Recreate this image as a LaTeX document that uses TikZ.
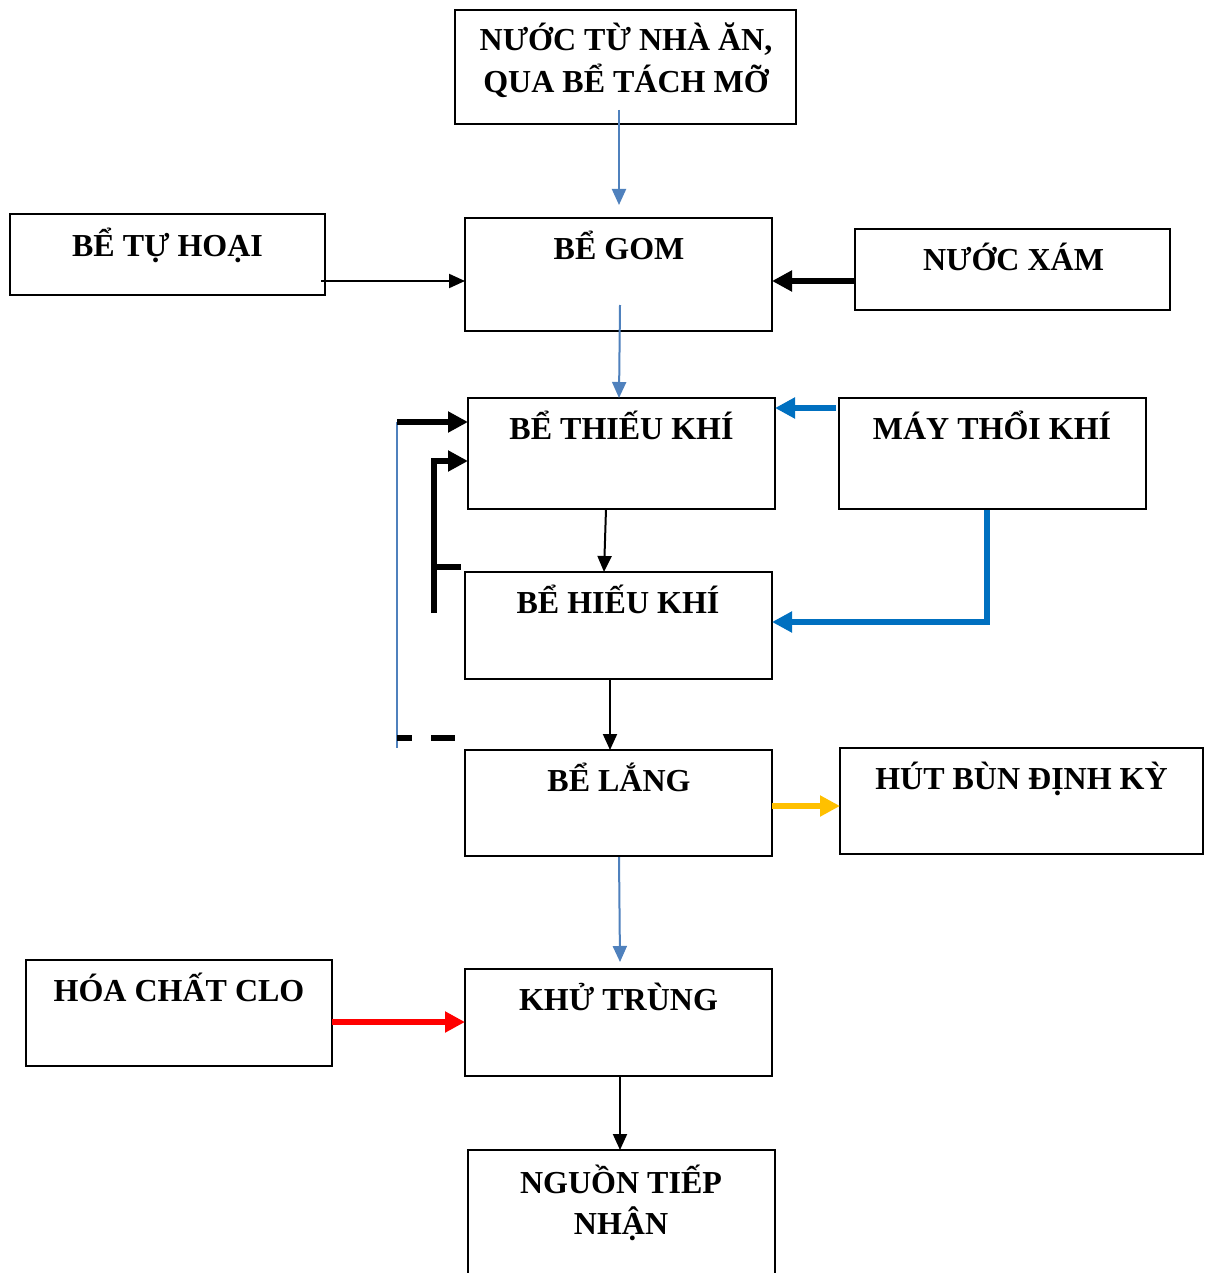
\documentclass[tikz,border=0pt]{standalone}
\usepackage{fontspec}
\setmainfont{Liberation Serif}
\usetikzlibrary{arrows.meta,calc}
\definecolor{thinblue}{HTML}{4F81BD}
\definecolor{airblue}{HTML}{0070C0}
\definecolor{sludge}{HTML}{FFC000}
\definecolor{chlor}{HTML}{FF0000}
\tikzset{
  box/.style={draw=black, line width=1.8pt, inner sep=0pt, outer sep=0pt},
  lbl/.style={anchor=base, inner sep=0pt, font=\fontsize{32}{40}\selectfont\bfseries},
  thinarrow/.style={line width=2pt, -{Triangle[length=16pt,width=14pt]}},
  thickarrow/.style={line width=6pt, -{Triangle[length=20pt,width=20pt]}},
  thickline/.style={line width=6pt},
}
\begin{document}
\begin{tikzpicture}[x=1pt,y=-1pt]
\clip (0,0) rectangle (1207,1273);
\fill[white] (0,0) rectangle (1207,1273);

% process boxes
\node[box, minimum width=341, minimum height=114] (src)   at (625.5,67)    {};
\node[box, minimum width=315, minimum height=81]  (septic) at (167.5,254.5) {};
\node[box, minimum width=307, minimum height=113] (gom)   at (618.5,274.5) {};
\node[box, minimum width=315, minimum height=81]  (grey)  at (1012.5,269.5) {};
\node[box, minimum width=307, minimum height=111] (anox)  at (621.5,453.5) {};
\node[box, minimum width=307, minimum height=111] (blower) at (992.5,453.5) {};
\node[box, minimum width=307, minimum height=107] (aero)  at (618.5,625.5) {};
\node[box, minimum width=307, minimum height=106] (settle) at (618.5,803)  {};
\node[box, minimum width=363, minimum height=106] (sludgebox) at (1021.5,801) {};
\node[box, minimum width=306, minimum height=106] (chem)  at (179,1013)    {};
\node[box, minimum width=307, minimum height=107] (disinf) at (618.5,1022.5) {};
\node[box, minimum width=307, minimum height=140] (recv)  at (621.5,1220)  {};

% labels
\node[lbl] (srcA)   at (626,51)   {NƯỚC TỪ NHÀ ĂN,};
\node[lbl] (srcB)   at (626,93)   {QUA BỂ TÁCH MỠ};
\node[lbl] (septicT) at (167.5,256) {BỂ TỰ HOẠI};
\node[lbl] (gomT)   at (619,259)  {BỂ GOM};
\node[lbl] (greyT)  at (1013.5,270) {NƯỚC XÁM};
\node[lbl] (anoxT)  at (621.5,439) {BỂ THIẾU KHÍ};
\node[lbl] (blowerT) at (992,439) {MÁY THỔI KHÍ};
\node[lbl] (aeroT)  at (618,613)  {BỂ HIẾU KHÍ};
\node[lbl] (settleT) at (619,791) {BỂ LẮNG};
\node[lbl] (sludgeT) at (1021.5,789) {HÚT BÙN ĐỊNH KỲ};
\node[lbl] (chemT)  at (179,1001) {HÓA CHẤT CLO};
\node[lbl] (disinfT) at (618.5,1010) {KHỬ TRÙNG};
\node[lbl] (recvA)  at (621,1193) {NGUỒN TIẾP};
\node[lbl] (recvB)  at (621,1234) {NHẬN};

% free ends of connectors
\coordinate (srcOut)  at (619,110);
\coordinate (gomIn)   at (619,205);
\coordinate (septicOut) at (321,281);
\coordinate (gomOut)  at (620,305);
\coordinate (blowerA) at (836,408);
\coordinate (blowerB) at (987,510);
\coordinate (blowerC) at (987,622);
\coordinate (anoxOut) at (606,509);
\coordinate (aeroIn)  at (604,572);
\coordinate (settleOut) at (619,857);
\coordinate (disinfIn) at (620,962);
\coordinate (retTop)  at (397,422);
\coordinate (retBot)  at (397,748);
\coordinate (retDash) at (397,738);
\coordinate (retDashEnd) at (455,738);
\coordinate (inTop)   at (434,461);
\coordinate (inBot)   at (434,613);
\coordinate (inStub)  at (434,567);
\coordinate (inStubEnd) at (461,567);

% main flow
\draw[thinarrow, thinblue] (srcOut) -- (gomIn);
\draw[thinarrow] (septicOut) -- (septicOut -| gom.west);
\draw[thickarrow] (grey.west |- septicOut) -- (gom.east |- septicOut);
\draw[thinarrow, thinblue] (gomOut) -- (anox.north -| 619,0);
\draw[thickarrow, airblue] (blowerA) -- (anox.east |- blowerA);
\draw[thickarrow, airblue] (blowerB) -- (blowerC) -- (aero.east |- blowerC);
\draw[thinarrow] (anoxOut) -- (aeroIn);
\draw[thinarrow] (aero.south -| 610,0) -- (settle.north -| 610,0);
\draw[thickarrow, sludge] (settle.east |- 0,806) -- (sludgebox.west |- 0,806);
\draw[thinarrow, thinblue] (settleOut) -- (disinfIn);
\draw[thickarrow, chlor] (chem.east |- 0,1022) -- (disinf.west |- 0,1022);
\draw[thinarrow] (disinf.south -| 620,0) -- (recv.north -| 620,0);

% sludge return lines
\draw[line width=2pt, thinblue] (retTop) -- (retBot);
\draw[thickarrow] (retTop) -- (anox.west |- retTop);
\draw[thickline, dash pattern=on 15pt off 19pt on 24pt off 10pt] (retDash) -- (retDashEnd);
\draw[thickline] (inBot) -- (inTop);
\draw[thickarrow] ([xshift=-3pt]inTop) -- (anox.west |- inTop);
\draw[thickline] (inStub) -- (inStubEnd);
\end{tikzpicture}
\end{document}
